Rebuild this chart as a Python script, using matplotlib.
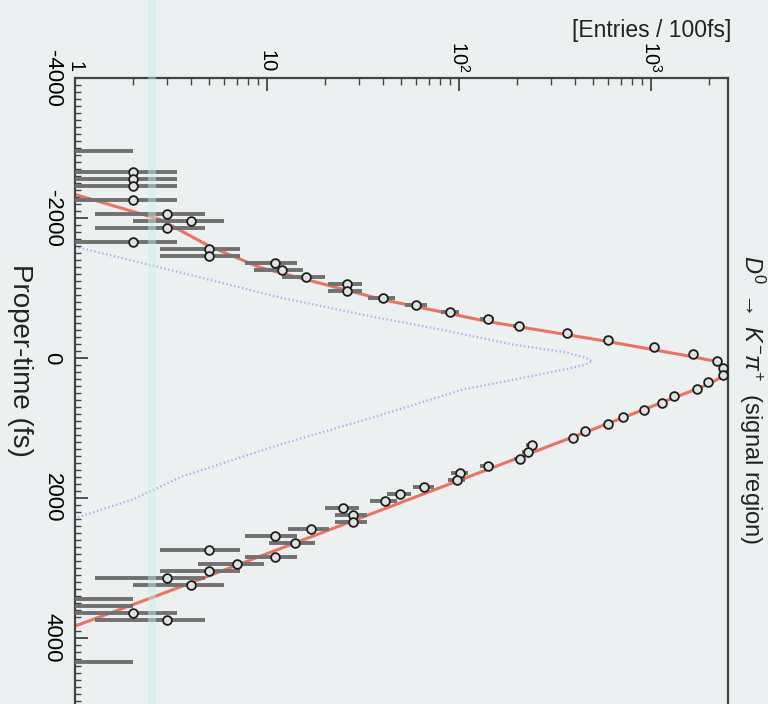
import numpy as np
import matplotlib.pyplot as plt
from matplotlib.patches import Rectangle
from matplotlib.ticker import MultipleLocator, NullFormatter, LogLocator

plt.rcParams['font.family'] = ['Liberation Sans', 'DejaVu Sans']
plt.rcParams['mathtext.fontset'] = 'custom'
plt.rcParams['mathtext.rm'] = 'Liberation Sans'
plt.rcParams['mathtext.it'] = 'Liberation Sans:italic'

# data (bins of 100 fs)
time_fs = [-2950, -2650, -2550, -2450, -2250, -2050, -1950, -1850, -1650, -1550,
           -1450, -1350, -1250, -1150, -1050, -950, -850, -750, -650, -550,
           -450, -350, -250, -150, -50, 50, 150, 250, 350, 450,
           550, 650, 750, 850, 950, 1050, 1150, 1250, 1350, 1450,
           1550, 1650, 1750, 1850, 1950, 2050, 2150, 2250, 2350, 2450,
           2550, 2650, 2750, 2850, 2950, 3050, 3150, 3250, 3450, 3550,
           3650, 3750, 4350]
entries = [1, 2, 2, 2, 2, 3, 4, 3, 2, 5,
           5, 11, 12, 16, 26, 26, 40, 60, 90, 141,
           205, 366, 600, 1040, 1660, 2200, 2360, 2380, 1980, 1740,
           1325, 1140, 920, 715, 595, 455, 394, 240, 228, 207,
           141, 101, 98, 66, 49, 41, 25, 28, 28, 17,
           11, 14, 5, 11, 7, 5, 3, 4, 1, 1,
           2, 3, 1]

# total fit (red)
fit_t = [-2336, -1979, -1593, -1293, -836, -521, -236, -21, 50, 164, 279, 379,
         1000, 1600, 2200, 2800, 3400, 3830]
fit_n = [1.0, 2.77, 5.05, 9.2, 39.7, 141, 595, 1620, 2200, 2400, 2300, 1980,
         520, 139, 37, 9.9, 2.65, 1.0]

# second component (blue dotted)
comp_t = [-1593, -1200, -864, -600, -407, -193, -80, 0, 50, 100, 160, 230,
          450, 836, 1236, 1693, 2021, 2290]
comp_n = [1.0, 3.8, 11.7, 34, 80, 190, 360, 460, 495, 450, 360, 270,
          105, 37, 11.7, 3.6, 2.0, 1.0]

x_ticks = [1, 10, 100, 1000]
x_tick_labels = ['1', '10', '$10^2$', '$10^3$']
t_ticks = [-4000, -2000, 0, 2000, 4000]
t_tick_labels = ['-4000', '-2000', '0', '2000', '4000']

bg = '#edf0f0'
fig = plt.figure(figsize=(7.68, 7.04), dpi=100, facecolor=bg)
ax = fig.add_axes([75 / 768, 0, 653 / 768, 626 / 704])
ax.set_facecolor(bg)

n = np.array(entries, float)
t = np.array(time_fs, float)
err = np.sqrt(n)
lo = np.minimum(err, n - 1e-3)
ax.errorbar(n, t, xerr=[lo, err], fmt='none', ecolor='#717171',
            elinewidth=2.8, capsize=0, zorder=3)
shown = n > 1
ax.plot(n[shown], t[shown], 'o', ms=6.3, mfc='#e2e2e2', mec='#1e1e1e',
        mew=1.3, zorder=4)
ax.plot(fit_n, fit_t, color='#ea7462', lw=2.2, zorder=2)
ax.plot(comp_n, comp_t, color='#a9a9ef', lw=1.6, ls=(0, (0.6, 1.2)), zorder=1)

ax.set_xscale('log')
ax.set_xlim(1, 2518)
ax.set_ylim(4943, -4000)

ax.xaxis.tick_top()
ax.set_xticks(x_ticks, x_tick_labels)
ax.xaxis.set_minor_locator(LogLocator(subs=np.arange(2, 10)))
ax.xaxis.set_minor_formatter(NullFormatter())
ax.set_yticks(t_ticks, t_tick_labels)
ax.yaxis.set_minor_locator(MultipleLocator(100))

ax.tick_params(axis='x', which='major', direction='in', length=9, width=1.3,
               labelsize=14.5, labelrotation=-90, pad=4, color='#444444')
ax.tick_params(axis='x', which='minor', direction='in', length=5, width=1.0,
               color='#444444')
ax.tick_params(axis='y', which='major', direction='in', length=9, width=1.3,
               labelsize=16, labelrotation=-90, pad=9, color='#444444')
ax.tick_params(axis='y', which='minor', direction='in', length=4, width=1.0,
               color='#444444')
for lab in ax.get_yticklabels():
    lab.set_va('center')

for side in ['top', 'left', 'right']:
    ax.spines[side].set_linewidth(1.6)
    ax.spines[side].set_color('#444444')
ax.spines['bottom'].set_visible(False)

fig.text(731 / 768, 1 - 30 / 704, '[Entries / 100fs]', ha='right', va='center',
         fontsize=16.5, color='#222222')
fig.text(20 / 768, 1 - 360 / 704, 'Proper-time (fs)', rotation=-90,
         ha='center', va='center', fontsize=20, color='#222222')
fig.text(752 / 768, 1 - 400 / 704,
         r'$D^0\;\rightarrow\; K^{-}\pi^{+}$  (signal region)', rotation=-90,
         ha='center', va='center', fontsize=17, color='#222222')

# faint cyan scanner stripe
fig.add_artist(Rectangle((148 / 768, 0), 8 / 768, 1, transform=fig.transFigure,
                         color='#c6efe8', alpha=0.45, lw=0, zorder=10))

fig.savefig('out.png', dpi=100, facecolor=bg)
